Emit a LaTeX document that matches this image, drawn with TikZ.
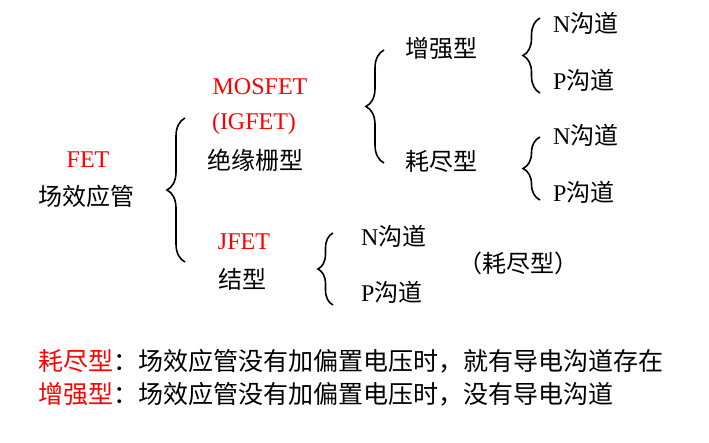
\documentclass[tikz,border=0pt]{standalone}
\usepackage{fontspec}
\setmainfont{Liberation Serif}
\newfontfamily\cjk{Noto Sans CJK SC}
\usetikzlibrary{decorations.pathreplacing}
\definecolor{fetred}{RGB}{255,0,0}
\tikzset{
  lbl/.style={inner sep=0pt, font=\fontsize{24}{28}\selectfont},
  redlbl/.style={lbl, text=fetred},
  note/.style={inner sep=0pt, anchor=west, font=\fontsize{25}{29}\selectfont},
  brc/.style={decorate, decoration={brace, amplitude=9pt, aspect=0.5}, line width=1.6pt}
}
\begin{document}
\begin{tikzpicture}[x=1pt,y=-1pt]
\useasboundingbox (0,0) rectangle (709,442);
% level 0
\node[redlbl] (fet) at (88,160) {FET};
\node[lbl] (fetcn) at (86,196) {\cjk 场效应管};
% brace 1
\coordinate (b1t) at (185,118);
\coordinate (b1b) at (185,262);
\draw[brc, decoration={amplitude=18pt}] (b1b) -- (b1t);
% MOSFET
\node[redlbl] (mos) at (260,87) {MOSFET};
\node[redlbl] (ig) at (254,124) {(IGFET)};
\node[lbl] (jy) at (255,160) {\cjk 绝缘栅型};
% JFET
\node[redlbl] (jfet) at (244,242) {JFET};
\node[lbl] (jx) at (242,279) {\cjk 结型};
% brace 2 (JFET)
\coordinate (b2t) at (333,233);
\coordinate (b2b) at (333,305);
\draw[brc, decoration={amplitude=15pt}] (b2b) -- (b2t);
\node[lbl, anchor=west] (jn) at (361,236) {N{\cjk 沟道}};
\node[lbl, anchor=west] (jp) at (361,292) {P{\cjk 沟道}};
\node[lbl, anchor=west] (jh) at (458,263) {\cjk （耗尽型）};
% brace 3 (MOSFET)
\coordinate (b3t) at (384,50);
\coordinate (b3b) at (384,163);
\draw[brc, decoration={amplitude=18pt}] (b3b) -- (b3t);
\node[lbl, anchor=west] (zq) at (405,48) {\cjk 增强型};
\node[lbl, anchor=west] (hj) at (405,161) {\cjk 耗尽型};
% brace 4
\coordinate (b4t) at (540,18);
\coordinate (b4b) at (540,93);
\draw[brc, decoration={amplitude=17pt}] (b4b) -- (b4t);
\node[lbl, anchor=west] (zn) at (553,23) {N{\cjk 沟道}};
\node[lbl, anchor=west] (zp) at (553,80) {P{\cjk 沟道}};
% brace 5
\coordinate (b5t) at (540,137);
\coordinate (b5b) at (540,200);
\draw[brc, decoration={amplitude=17pt}] (b5b) -- (b5t);
\node[lbl, anchor=west] (hn) at (553,135) {N{\cjk 沟道}};
\node[lbl, anchor=west] (hp) at (553,192) {P{\cjk 沟道}};
% notes
\node[note] (n1) at (38,361) {{\cjk\color{fetred}耗尽型}{\cjk ：场效应管没有加偏置电压时，就有导电沟道存在}};
\node[note] (n2) at (38,394) {{\cjk\color{fetred}增强型}{\cjk ：场效应管没有加偏置电压时，没有导电沟道}};
\end{tikzpicture}
\end{document}
